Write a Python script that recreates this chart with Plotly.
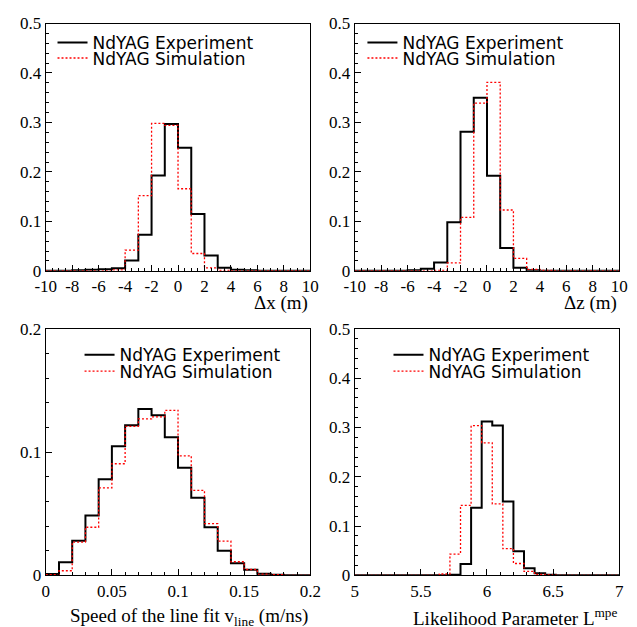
import plotly.graph_objects as go

W, H = 637, 627

# ---------------- data ----------------
dx_edges = list(range(-10, 11))
dx_exp = [0, 0, 0.001, 0.002, 0.003, 0.005, 0.021, 0.073, 0.193, 0.297,
          0.249, 0.115, 0.031, 0.006, 0.002, 0.001, 0, 0, 0, 0]
dx_sim = [0, 0, 0, 0, 0, 0.002, 0.042, 0.152, 0.298, 0.294,
          0.166, 0.035, 0.006, 0.001, 0, 0, 0, 0, 0, 0]

dz_edges = list(range(-10, 11))
dz_exp = [0, 0, 0, 0, 0.001, 0.004, 0.017, 0.098, 0.281, 0.350,
          0.192, 0.046, 0.006, 0.001, 0, 0, 0, 0, 0, 0]
dz_sim = [0, 0, 0, 0, 0, 0, 0.001, 0.016, 0.108, 0.339,
          0.381, 0.123, 0.025, 0.003, 0.001, 0, 0, 0, 0, 0]

v_edges = [round(0.01 * i, 2) for i in range(21)]
v_exp = [0.001, 0.0105, 0.028, 0.0486, 0.078, 0.1047, 0.1218, 0.135, 0.130, 0.112,
         0.0874, 0.063, 0.039, 0.020, 0.0097, 0.0045, 0.0013, 0.0005, 0, 0]
v_sim = [0.0005, 0.0037, 0.027, 0.039, 0.071, 0.0906, 0.121, 0.127, 0.1286, 0.134,
         0.097, 0.069, 0.042, 0.0278, 0.011, 0.0047, 0.001, 0.0005, 0, 0]

L_edges = [round(5 + 0.08 * i, 2) for i in range(26)]
L_exp = [0, 0, 0, 0, 0, 0, 0, 0, 0, 0.001, 0.023, 0.137, 0.312, 0.304,
         0.150, 0.0486, 0.0144, 0.004, 0.001, 0, 0, 0, 0, 0, 0]
L_sim = [0, 0, 0, 0, 0, 0, 0, 0, 0.0026, 0.043, 0.142, 0.304, 0.269, 0.145,
         0.054, 0.024, 0.008, 0.002, 0.001, 0, 0, 0, 0, 0, 0]

labels = ["NdYAG Experiment", "NdYAG Simulation"]
titles = ["Δx (m)", "Δz (m)",
          "Speed of the line fit v<sub>line</sub> (m/ns)",
          "Likelihood Parameter L<sup>mpe</sup>"]

xt_d = [-10, -8, -6, -4, -2, 0, 2, 4, 6, 8, 10]
xt_d_txt = ["-10", "-8", "-6", "-4", "-2", "0", "2", "4", "6", "8", "10"]
xt_v = [0, 0.05, 0.1, 0.15, 0.2]
xt_v_txt = ["0", "0.05", "0.1", "0.15", "0.2"]
xt_L = [5, 5.5, 6, 6.5, 7]
xt_L_txt = ["5", "5.5", "6", "6.5", "7"]
yt_5 = [0, 0.1, 0.2, 0.3, 0.4, 0.5]
yt_5_txt = ["0", "0.1", "0.2", "0.3", "0.4", "0.5"]
yt_2 = [0, 0.1, 0.2]
yt_2_txt = ["0", "0.1", "0.2"]

panels = [
    dict(edges=dx_edges, exp=dx_exp, sim=dx_sim, xr=[-10, 10], yr=[0, 0.5],
         xt=xt_d, xtt=xt_d_txt, xm=0.5, yt=yt_5, ytt=yt_5_txt, ym=0.02),
    dict(edges=dz_edges, exp=dz_exp, sim=dz_sim, xr=[-10, 10], yr=[0, 0.5],
         xt=xt_d, xtt=xt_d_txt, xm=0.5, yt=yt_5, ytt=yt_5_txt, ym=0.02),
    dict(edges=v_edges, exp=v_exp, sim=v_sim, xr=[0, 0.2], yr=[0, 0.2],
         xt=xt_v, xtt=xt_v_txt, xm=0.01, yt=yt_2, ytt=yt_2_txt, ym=0.02),
    dict(edges=L_edges, exp=L_exp, sim=L_sim, xr=[5, 7], yr=[0, 0.5],
         xt=xt_L, xtt=xt_L_txt, xm=0.1, yt=yt_5, ytt=yt_5_txt, ym=0.02),
]

# ---------------- layout geometry (pixels) ----------------
xdoms = [(36, 310), (356, 630), (36, 310), (356, 630)]
ydoms = [(15, 270), (15, 270), (330, 584), (330, 584)]
legx = [43, 364, 71, 391]
legy = [(35, 51), (35, 51), (357, 374), (357, 374)]
titley = [303, 303, 627, 627]

serif = "Liberation Serif, Times New Roman, serif"
fig = go.Figure()
layout = dict(width=W, height=H, margin=dict(l=0, r=0, t=0, b=0),
              paper_bgcolor="white", plot_bgcolor="white", showlegend=True,
              annotations=[])

lgn = 0
for i, p in enumerate(panels):
    n = i + 1
    xa = "x" if n == 1 else f"x{n}"
    ya = "y" if n == 1 else f"y{n}"
    ye = p["exp"] + [p["exp"][-1]]
    ys = p["sim"] + [p["sim"][-1]]
    lg1 = "legend" if lgn == 0 else f"legend{lgn + 1}"
    lg2 = f"legend{lgn + 2}"
    lgn += 2
    fig.add_trace(go.Scatter(x=p["edges"], y=ye, mode="lines", line_shape="hv",
                             line=dict(color="black", width=2), name=labels[0],
                             xaxis=xa, yaxis=ya, legend=lg1))
    fig.add_trace(go.Scatter(x=p["edges"], y=ys, mode="lines", line_shape="hv",
                             line=dict(color="#ff0000", width=1.3, dash="2px,2px"),
                             name=labels[1], xaxis=xa, yaxis=ya, legend=lg2))
    x0, x1 = xdoms[i]
    y0, y1 = ydoms[i]
    axcommon = dict(showgrid=False, zeroline=False, showline=True, linecolor="black",
                    linewidth=1, mirror=True, ticks="inside", ticklen=6,
                    tickcolor="black", tickmode="array",
                    tickfont=dict(family=serif, size=17, color="black"))
    layout[f"xaxis{'' if n == 1 else n}"] = dict(
        axcommon, domain=[x0 / W, x1 / W], range=p["xr"], anchor=ya,
        tickvals=p["xt"], ticktext=p["xtt"],
        minor=dict(ticks="inside", ticklen=3, tick0=p["xr"][0], dtick=p["xm"],
                   tickcolor="black", showgrid=False))
    layout[f"yaxis{'' if n == 1 else n}"] = dict(
        axcommon, domain=[1 - y1 / H, 1 - y0 / H], range=p["yr"], anchor=xa,
        tickvals=p["yt"], ticktext=p["ytt"],
        minor=dict(ticks="inside", ticklen=3, tick0=0, dtick=p["ym"],
                   tickcolor="black", showgrid=False))
    for lg, yy in ((lg1, legy[i][0]), (lg2, legy[i][1])):
        layout[lg] = dict(x=legx[i] / W, y=1 - yy / H, xanchor="left", yanchor="middle",
                          bgcolor="rgba(0,0,0,0)", borderwidth=0,
                          font=dict(family="DejaVu Sans", size=17, color="black"))
    layout["annotations"].append(dict(
        text=titles[i], xref="paper", yref="paper", x=x1 / W, y=1 - titley[i] / H,
        xanchor="right", yanchor="middle", showarrow=False,
        font=dict(family=serif, size=19, color="black")))

fig.update_layout(**layout)
fig.write_html("out.html")
